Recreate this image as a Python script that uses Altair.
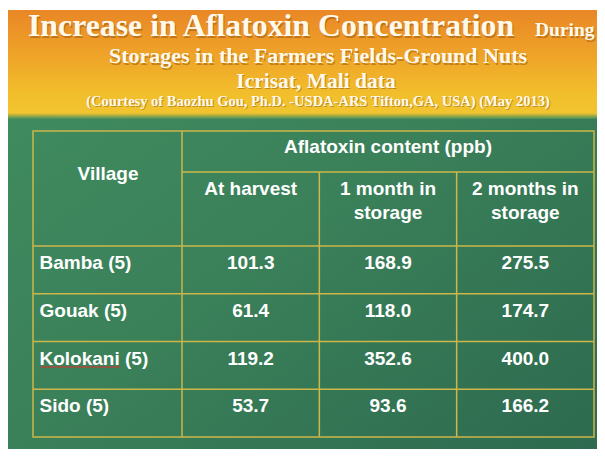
import altair as alt
import pandas as pd

# ---------------- data ----------------
villages = ["Bamba (5)", "Gouak (5)", "Kolokani (5)", "Sido (5)"]
at_harvest = [101.3, 61.4, 119.2, 53.7]
one_month = [168.9, 118.0, 352.6, 93.6]
two_months = [275.5, 174.7, 400.0, 166.2]
periods = ["At harvest", "1 month in storage", "2 months in storage"]
period_header_lines = [["At harvest"], ["1 month in", "storage"], ["2 months in", "storage"]]
group_header = "Aflatoxin content (ppb)"
row_header = "Village"
title_main = "Increase in Aflatoxin Concentration"
title_tail = "During"
title_line2 = "Storages in the Farmers Fields-Ground Nuts"
title_line3 = "Icrisat, Mali data"
title_credit = "(Courtesy of Baozhu Gou, Ph.D. -USDA-ARS Tifton,GA, USA) (May 2013)"

# ---------------- layout / style ----------------
W, H = 589, 441
SLIDE_TOP = 2
BANNER_BOTTOM = 108
T_LEFT, T_RIGHT, T_TOP, T_SPLIT, T_HEAD, T_BOTTOM = 25, 586, 123, 164, 238, 429
COL1 = 174
GOLD = "#CDB74A"
WHITE = "#FFFFFF"
SANS = "Liberation Sans"
SERIF = "Liberation Serif"
TITLE_COL = "#FFF9EC"
SHADOW_COL = "#8A4E0A"

series = {periods[0]: at_harvest, periods[1]: one_month, periods[2]: two_months}
rows = []
for p, vals in series.items():
    for v, val in zip(villages, vals):
        rows.append({"village": v, "period": p, "value": val})
df_vals = pd.DataFrame(rows)
df_villages = pd.DataFrame({"village": villages})
df_periods = pd.DataFrame({"period": periods,
                           "label": ["\n".join(l) for l in period_header_lines]})

xscale = alt.Scale(domain=periods, range=[COL1, T_RIGHT], paddingInner=0, paddingOuter=0)
yscale = alt.Scale(domain=villages, range=[T_HEAD, T_BOTTOM], paddingInner=0, paddingOuter=0)

one = pd.DataFrame({"k": [0]})

def box(x, x2, y, y2, **mark):
    return alt.Chart(one).mark_rect(**mark).encode(
        x=alt.value(x), x2=alt.value(x2), y=alt.value(y), y2=alt.value(y2))

def label(text, x, y, **mark):
    return alt.Chart(pd.DataFrame({"t": [text]})).mark_text(**mark).encode(
        x=alt.value(x), y=alt.value(y), text="t:N")

layers = []

# backgrounds
layers.append(box(0, W, SLIDE_TOP, H, fill=alt.Gradient(
    gradient="linear", x1=0, y1=0, x2=1, y2=1,
    stops=[alt.GradientStop(color="#428E61", offset=0),
           alt.GradientStop(color="#3A8059", offset=0.5),
           alt.GradientStop(color="#2D6A4F", offset=1)])))
layers.append(box(0, W, SLIDE_TOP, BANNER_BOTTOM, fill=alt.Gradient(
    gradient="linear", x1=0, y1=0, x2=0, y2=1,
    stops=[alt.GradientStop(color="#E98726", offset=0),
           alt.GradientStop(color="#EFA528", offset=0.45),
           alt.GradientStop(color="#F2BF2C", offset=0.8),
           alt.GradientStop(color="#F1C530", offset=1)])))
layers.append(box(0, W, BANNER_BOTTOM - 3, BANNER_BOTTOM + 3, fill=alt.Gradient(
    gradient="linear", x1=0, y1=0, x2=0, y2=1,
    stops=[alt.GradientStop(color="#F1C530", offset=0),
           alt.GradientStop(color="#9BA844", offset=0.5),
           alt.GradientStop(color="#428E61", offset=1)])))

# title with soft shadow
title_specs = [
    (title_main, 20, 28.3, dict(fontSize=31.8, align="left")),
    (title_tail, 527, 28.3, dict(fontSize=19.5, align="left")),
    (title_line2, 310, 55.3, dict(fontSize=22, align="center")),
    (title_line3, 308, 80.0, dict(fontSize=21.5, align="center")),
    (title_credit, 310, 97.8, dict(fontSize=14.5, align="center")),
]
for txt, x, y, st in title_specs:
    layers.append(label(txt, x + 1, y + 1.2, font=SERIF, fontWeight="bold",
                        baseline="alphabetic", color=SHADOW_COL, opacity=0.45, **st))
for txt, x, y, st in title_specs:
    layers.append(label(txt, x, y, font=SERIF, fontWeight="bold",
                        baseline="alphabetic", color=TITLE_COL, **st))

# table grid
layers.append(alt.Chart(df_villages).mark_rule(color=GOLD, strokeWidth=1.5).encode(
    y=alt.Y("village:N", scale=yscale, axis=None, bandPosition=0),
    x=alt.value(T_LEFT), x2=alt.value(T_RIGHT)))
layers.append(alt.Chart(df_periods).mark_rule(color=GOLD, strokeWidth=1.5).encode(
    x=alt.X("period:N", scale=xscale, axis=None, bandPosition=0),
    y=alt.value(T_SPLIT), y2=alt.value(T_BOTTOM)))
layers.append(alt.Chart(df_periods).transform_filter(alt.datum.period == periods[0])
              .mark_rule(color=GOLD, strokeWidth=1.5).encode(
    x=alt.X("period:N", scale=xscale, axis=None, bandPosition=0),
    y=alt.value(T_TOP), y2=alt.value(T_SPLIT)))
layers.append(alt.Chart(one).mark_rule(color=GOLD, strokeWidth=1.5).encode(
    x=alt.value(COL1), x2=alt.value(T_RIGHT), y=alt.value(T_SPLIT)))
layers.append(box(T_LEFT, T_RIGHT, T_TOP, T_BOTTOM, fill="transparent",
                  stroke=GOLD, strokeWidth=1.5))

# header text
layers.append(label(row_header, 100, 172, font=SANS, fontWeight="bold", fontSize=19,
                    align="center", baseline="alphabetic", color=WHITE))
layers.append(label(group_header, (COL1 + T_RIGHT) / 2, 145.3, font=SANS, fontWeight="bold",
                    fontSize=19, align="center", baseline="alphabetic", color=WHITE))
layers.append(alt.Chart(df_periods).mark_text(
    font=SANS, fontWeight="bold", fontSize=19, align="center", baseline="alphabetic",
    lineBreak="\n", lineHeight=23.5, color=WHITE).encode(
    x=alt.X("period:N", scale=xscale, axis=None),
    y=alt.value(187), text="label:N"))

# body text
layers.append(alt.Chart(df_villages).mark_text(
    font=SANS, fontWeight="bold", fontSize=19, align="left", baseline="alphabetic",
    dy=23, color=WHITE).encode(
    y=alt.Y("village:N", scale=yscale, axis=None, bandPosition=0),
    x=alt.value(31.5), text="village:N"))
layers.append(alt.Chart(df_villages).transform_filter(alt.datum.village == villages[2])
              .mark_rule(color="#E0302A", strokeWidth=1.2, yOffset=25.5).encode(
    y=alt.Y("village:N", scale=yscale, axis=None, bandPosition=0),
    x=alt.value(32.5), x2=alt.value(112)))
layers.append(alt.Chart(df_vals).mark_text(
    font=SANS, fontWeight="bold", fontSize=19, align="center", baseline="alphabetic",
    dy=23, color=WHITE).encode(
    x=alt.X("period:N", scale=xscale, axis=None),
    y=alt.Y("village:N", scale=yscale, axis=None, bandPosition=0),
    text=alt.Text("value:Q", format=".1f")))

chart = alt.layer(*layers).properties(
    width=W, height=H,
    padding={"left": 0, "top": 0, "right": 0, "bottom": 0},
    autosize=alt.AutoSizeParams(type="none"),
    background="white",
).configure_view(stroke=None)

chart.save("out.html", embed_options={"renderer": "svg", "actions": False})
